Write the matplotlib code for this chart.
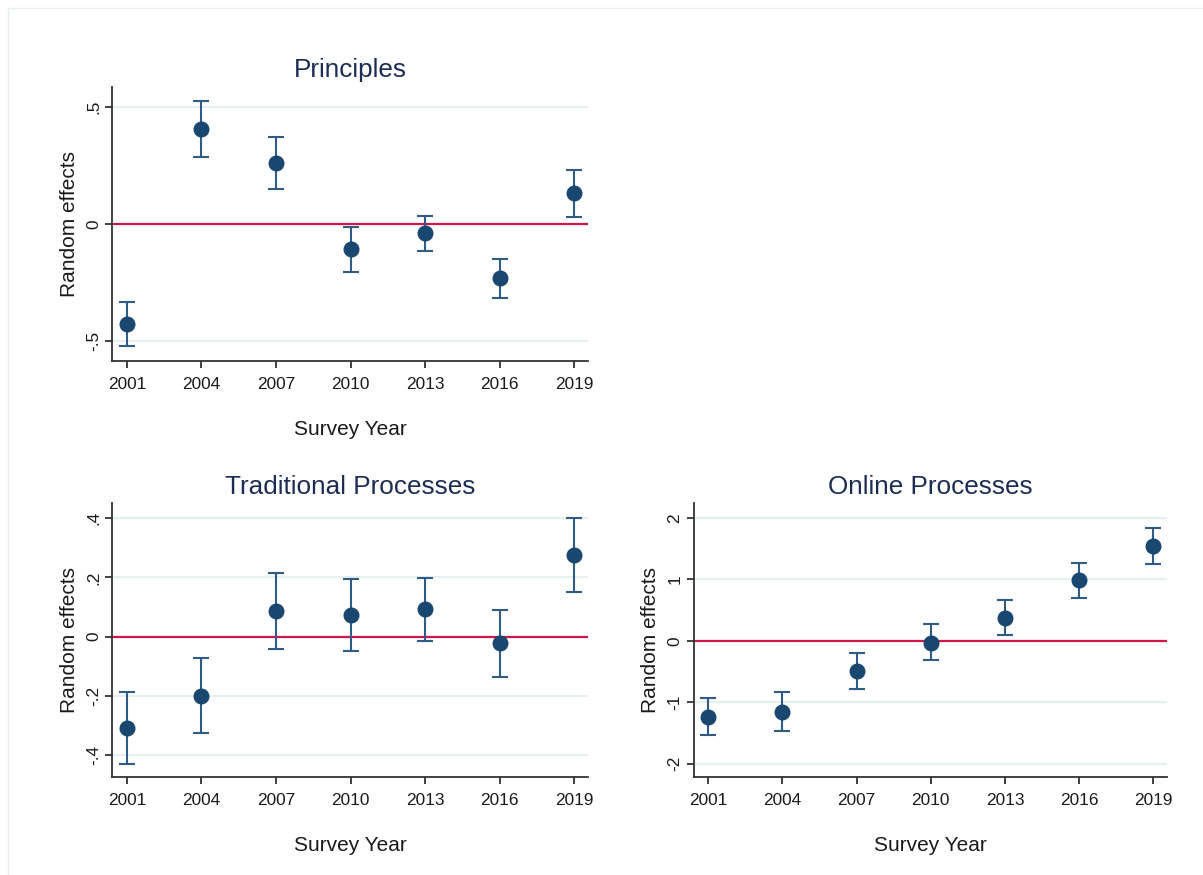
import matplotlib
matplotlib.use("Agg")
import matplotlib.pyplot as plt
from matplotlib.lines import Line2D

plt.rcParams['font.family'] = ['Liberation Sans', 'DejaVu Sans']

years = [2001, 2004, 2007, 2010, 2013, 2016, 2019]

# random effects with 95% bounds, one group of arrays per model
principles_est = [-0.427, 0.405, 0.259, -0.108, -0.040, -0.231, 0.131]
principles_lo = [-0.520, 0.285, 0.148, -0.204, -0.114, -0.315, 0.031]
principles_hi = [-0.333, 0.527, 0.373, -0.014, 0.033, -0.148, 0.232]

traditional_est = [-0.307, -0.200, 0.087, 0.072, 0.092, -0.021, 0.274]
traditional_lo = [-0.428, -0.326, -0.043, -0.049, -0.013, -0.135, 0.151]
traditional_hi = [-0.185, -0.073, 0.215, 0.195, 0.198, 0.091, 0.400]

online_est = [-1.24, -1.15, -0.49, -0.027, 0.38, 0.99, 1.54]
online_lo = [-1.54, -1.47, -0.79, -0.31, 0.10, 0.70, 1.25]
online_hi = [-0.93, -0.83, -0.195, 0.27, 0.66, 1.27, 1.84]

principles_ticks = [-0.5, 0, 0.5]
principles_ticklabels = ['-.5', '0', '.5']
traditional_ticks = [-0.4, -0.2, 0, 0.2, 0.4]
traditional_ticklabels = ['-.4', '-.2', '0', '.2', '.4']
online_ticks = [-2, -1, 0, 1, 2]
online_ticklabels = ['-2', '-1', '0', '1', '2']

NAVY = '#1a476f'
BAR = '#2f5b84'
RED = '#d0174a'
GRID = '#e6eff1'
TITLE = '#1c2c54'
TEXT = '#1a1a1a'


def draw_panel(ax, title, est, lo, hi, ticks, ticklabels, ylim):
    err = [[e - l for e, l in zip(est, lo)], [h - e for e, h in zip(est, hi)]]
    for t in ticks:
        if t != 0:
            ax.axhline(t, color=GRID, linewidth=1.5, zorder=0)
    ax.axhline(0, color=RED, linewidth=1.6, zorder=1)
    ax.errorbar(years, est, yerr=err, fmt='o', color=NAVY, ecolor=BAR,
                elinewidth=1.5, capsize=5.5, capthick=1.5, markersize=10.5, zorder=3)
    ax.set_xlim(2000.4, 2019.56)
    ax.set_ylim(*ylim)
    ax.set_xticks(years)
    ax.set_xticklabels([str(y) for y in years])
    ax.set_yticks(ticks)
    ax.set_yticklabels(ticklabels, rotation=90, va='center')
    for s in ['top', 'right']:
        ax.spines[s].set_visible(False)
    for s in ['left', 'bottom']:
        ax.spines[s].set_color('#333333')
        ax.spines[s].set_linewidth(1.3)
    ax.tick_params(axis='both', length=5, width=1.3, color='#333333',
                   labelsize=12.4, labelcolor=TEXT)
    ax.tick_params(axis='x', pad=6.5)
    ax.tick_params(axis='y', pad=3)
    ax.set_title(title, fontsize=18.8, color=TITLE, pad=7)
    ax.set_xlabel('Survey Year', fontsize=15, color=TEXT, labelpad=20)
    ax.set_ylabel('Random effects', fontsize=15, color=TEXT, labelpad=5)


fig = plt.figure(figsize=(12.03, 8.75), dpi=100)

ax1 = fig.add_axes([0.0931, 0.5874, 0.3957, 0.3132])
ax2 = fig.add_axes([0.0931, 0.1117, 0.3957, 0.3131])
ax3 = fig.add_axes([0.5765, 0.1117, 0.3936, 0.3131])

draw_panel(ax1, 'Principles', principles_est, principles_lo, principles_hi,
           principles_ticks, principles_ticklabels, (-0.585, 0.585))
draw_panel(ax2, 'Traditional Processes', traditional_est, traditional_lo, traditional_hi,
           traditional_ticks, traditional_ticklabels, (-0.474, 0.45))
draw_panel(ax3, 'Online Processes', online_est, online_lo, online_hi,
           online_ticks, online_ticklabels, (-2.22, 2.24))

# thin outer frame along the top and left edges
fx = 7.5 / 1203
fy = 1 - 7.5 / 875
fig.add_artist(Line2D([fx, fx], [0, fy], color='#e6eef0', linewidth=1.0))
fig.add_artist(Line2D([fx, 1], [fy, fy], color='#e6eef0', linewidth=1.0))

fig.savefig('out.png', dpi=100)
